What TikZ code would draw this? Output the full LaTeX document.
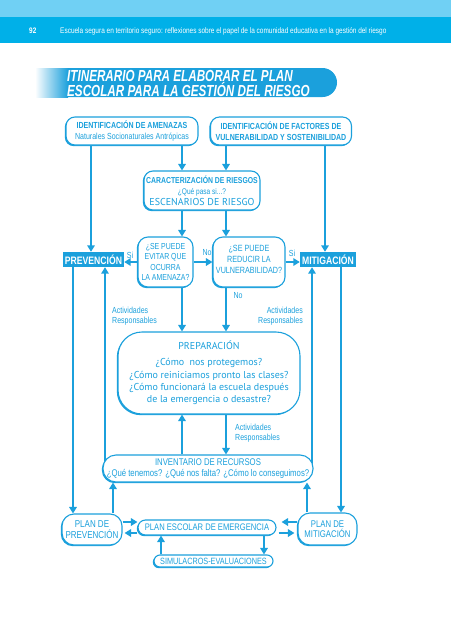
\documentclass[tikz,border=0pt]{standalone}
\usepackage{fontspec}
\setmainfont{Liberation Sans}
\newfontfamily\nar[FakeStretch=0.8]{Liberation Sans}
\newfontfamily\tit[FakeStretch=0.73]{Liberation Sans}
\newfontfamily\hum{PT Sans}
\usetikzlibrary{arrows.meta,shadows}
\definecolor{azul}{RGB}{27,160,220}
\definecolor{franja}{RGB}{0,176,232}
\definecolor{celeste}{RGB}{112,208,244}
\pgfdeclarelayer{fondo}
\pgfsetlayers{fondo,main}

\begin{document}
\begin{tikzpicture}[x=1pt,y=-1pt,>={Triangle[length=6.5pt,width=7.5pt]},
    caja/.style={draw=azul,line width=1.1pt,fill=white,text=azul,align=center,
      inner sep=0pt,rounded corners=#1,
      drop shadow={shadow xshift=-1.2pt,shadow yshift=-1.2pt,fill=azul,opacity=1}},
    caja/.default=9pt,
    llena/.style={fill=azul,text=white,inner sep=0pt,
      font=\nar\bfseries\fontsize{10.8}{12}\selectfont},
    flecha/.style={draw=azul,line width=2.4pt,->},
    nota/.style={text=azul,inner sep=0pt,font=\nar\fontsize{8.8}{10}\selectfont}]

    \useasboundingbox (0,0) rectangle (451,640);

    % cabecera
    \fill[celeste] (0,0) rectangle (451,17);
    \fill[franja] (0,17) rectangle (451,43);
    \node[anchor=west,text=white,inner sep=0pt,font=\nar\bfseries\fontsize{8}{9}\selectfont] (pag) at (29,31) {92};
    \node[anchor=west,text=white,inner sep=0pt,font=\nar\fontsize{8.1}{9}\selectfont] (cab) at (60,31)
      {Escuela segura en territorio seguro: reflexiones sobre el papel de la comunidad educativa en la gestión del riesgo};

    % titulo
    \fill[azul,rounded corners=14.5pt] (40,68) rectangle (337,97);
    \shade[left color=white,right color=azul] (35,68) rectangle (68,97);
    \node[anchor=north west,text=white,inner sep=0pt,align=left,
      font=\tit\bfseries\itshape\fontsize{16}{15}\selectfont] (tit) at (67,70.5)
      {ITINERARIO PARA ELABORAR EL PLAN\\ESCOLAR PARA LA GESTIÓN DEL RIESGO};

    % cajas
    \node[caja,minimum width=132pt,minimum height=28pt,font=\nar\fontsize{8.8}{11}\selectfont] (Am) at (132,131)
      {{\bfseries IDENTIFICACIÓN DE AMENAZAS}\\Naturales Socionaturales Antrópicas};
    \node[caja,minimum width=141pt,minimum height=28pt,font=\nar\bfseries\fontsize{8.8}{11}\selectfont] (Fa) at (281,131)
      {IDENTIFICACIÓN DE FACTORES DE\\VULNERABILIDAD Y SOSTENIBILIDAD};
    \node[caja,minimum width=116pt,minimum height=39pt,font=\nar\fontsize{8.2}{11}\selectfont] (Ca) at (202,190.5)
      {{\bfseries\fontsize{8.6}{11}\selectfont CARACTERIZACIÓN DE RIESGOS}\\¿Qué pasa si...?\\{\hum\fontsize{10}{11}\selectfont ESCENARIOS DE RIESGO}};
    \node[caja=10pt,minimum width=55pt,minimum height=50pt,font=\nar\fontsize{8.7}{10.3}\selectfont] (D1) at (165.5,262)
      {¿SE PUEDE\\EVITAR QUE\\OCURRA\\LA AMENAZA?};
    \node[caja=10pt,minimum width=72pt,minimum height=50pt,font=\nar\fontsize{9}{11}\selectfont] (D2) at (249,262)
      {¿SE PUEDE\\REDUCIR LA\\VULNERABILIDAD?\rule[-6pt]{0pt}{0pt}};
    \node[llena,minimum width=61pt,minimum height=15pt] (Pv) at (93.5,259.5) {PREVENCIÓN};
    \node[llena,minimum width=56pt,minimum height=15pt] (Mi) at (328,259.5) {MITIGACIÓN};
    \node[caja=24pt,minimum width=182pt,minimum height=82pt,font=\hum\fontsize{10}{12.3}\selectfont] (Pr) at (209,373)
      {PREPARACIÓN\\[4pt]¿Cómo~ nos protegemos?\\¿Cómo reiniciamos pronto las clases?\\¿Cómo funcionará la escuela después\\de la emergencia o desastre?};
    \node[caja=13pt,minimum width=210pt,minimum height=27pt,font=\nar\fontsize{9.7}{11}\selectfont] (In) at (208,468.5)
      {INVENTARIO DE RECURSOS\\¿Qué tenemos? ¿Qué nos falta? ¿Cómo lo conseguimos?};
    \node[caja=12pt,minimum width=60pt,minimum height=31pt,font=\nar\fontsize{10}{10.5}\selectfont] (PP) at (92,529.5)
      {PLAN DE\\PREVENCIÓN};
    \node[caja=12pt,minimum width=59pt,minimum height=32pt,font=\nar\fontsize{9.7}{10.5}\selectfont] (PM) at (327.5,529)
      {PLAN DE\\MITIGACIÓN};
    \node[caja=7.5pt,minimum width=138pt,minimum height=15pt,font=\nar\fontsize{9.5}{10}\selectfont] (PE) at (207,527.5)
      {PLAN ESCOLAR DE EMERGENCIA};
    \node[caja=6pt,minimum width=119pt,minimum height=12pt,font=\nar\fontsize{9.1}{10}\selectfont] (Sim) at (213.5,561)
      {SIMULACROS-EVALUACIONES};

    % rotulos
    \node[nota] (si1) at (130,255) {Si};
    \node[nota] (no1) at (207,253) {No};
    \node[nota] (si2) at (292,253) {Si};
    \node[nota] (no2) at (238,296) {No};
    \node[nota,anchor=west,align=left] (ac1) at (112,316) {Actividades\\Responsables};
    \node[nota,anchor=east,align=right] (ac2) at (303,316) {Actividades\\Responsables};
    \node[nota,anchor=west,align=left] (ac3) at (235,433) {Actividades\\Responsables};

    % columnas y filas
    \coordinate (xa) at (182,0);
    \coordinate (xb) at (226,0);
    \coordinate (l1) at (73,0);
    \coordinate (l2) at (91,0);
    \coordinate (l3) at (105,0);
    \coordinate (l4) at (113,0);
    \coordinate (r4) at (307,0);
    \coordinate (r3) at (312,0);
    \coordinate (r2) at (325,0);
    \coordinate (r1) at (341,0);
    \coordinate (s1) at (161,0);
    \coordinate (s2) at (264,0);
    \coordinate (ya) at (0,522);
    \coordinate (yb) at (0,533);

    \begin{pgfonlayer}{fondo}
    \draw[flecha] (xa |- Am.south) -- (xa |- Ca.north);
    \draw[flecha] (xb |- Fa.south) -- (xb |- Ca.north);
    \draw[flecha] (xa |- Ca.south) -- (xa |- D1.north);
    \draw[flecha] (xb |- Ca.south) -- (xb |- D2.north);
    \draw[flecha] (l2 |- Am.south) -- (l2 |- Pv.north);
    \draw[flecha] (r2 |- Fa.south) -- (r2 |- Mi.north);
    \draw[flecha] (D1.west) -- (D1.west -| Pv.east);
    \draw[flecha] (D1.east) -- (D1.east -| D2.west);
    \draw[flecha] (D2.east) -- (D2.east -| Mi.west);
    \draw[flecha] (xa |- D1.south) -- (xa |- Pr.north);
    \draw[flecha] (xb |- D2.south) -- (xb |- Pr.north);
    \draw[flecha] (xa |- In.north) -- (xa |- Pr.south);
    \draw[flecha] (xb |- Pr.south) -- (xb |- In.north);
    \draw[flecha] (l1 |- Pv.south) -- (l1 |- PP.north);
    \draw[flecha] (l3 |- In.west) -- (l3 |- Pv.south);
    \draw[flecha] (l4 |- PP.north) -- (l4 |- In.south);
    \draw[flecha] (r1 |- Mi.south) -- (r1 |- PM.north);
    \draw[flecha] (r3 |- In.east) -- (r3 |- Mi.south);
    \draw[flecha] (r4 |- PM.north) -- (r4 |- In.south);
    \draw[flecha] (PP.east |- ya) -- (PE.west |- ya);
    \draw[flecha,shorten >=2pt] (PE.west |- yb) -- (PP.east |- yb);
    \draw[flecha,shorten >=5pt] (PM.west |- ya) -- (PE.east |- ya);
    \draw[flecha,shorten <=2pt,shorten >=3pt] (PE.east |- yb) -- (PM.west |- yb);
    \draw[flecha] (s2 |- PE.south) -- (s2 |- Sim.north);
    \draw[flecha] (s1 |- Sim.north) -- (s1 |- PE.south);
    \end{pgfonlayer}
\end{tikzpicture}
\end{document}
